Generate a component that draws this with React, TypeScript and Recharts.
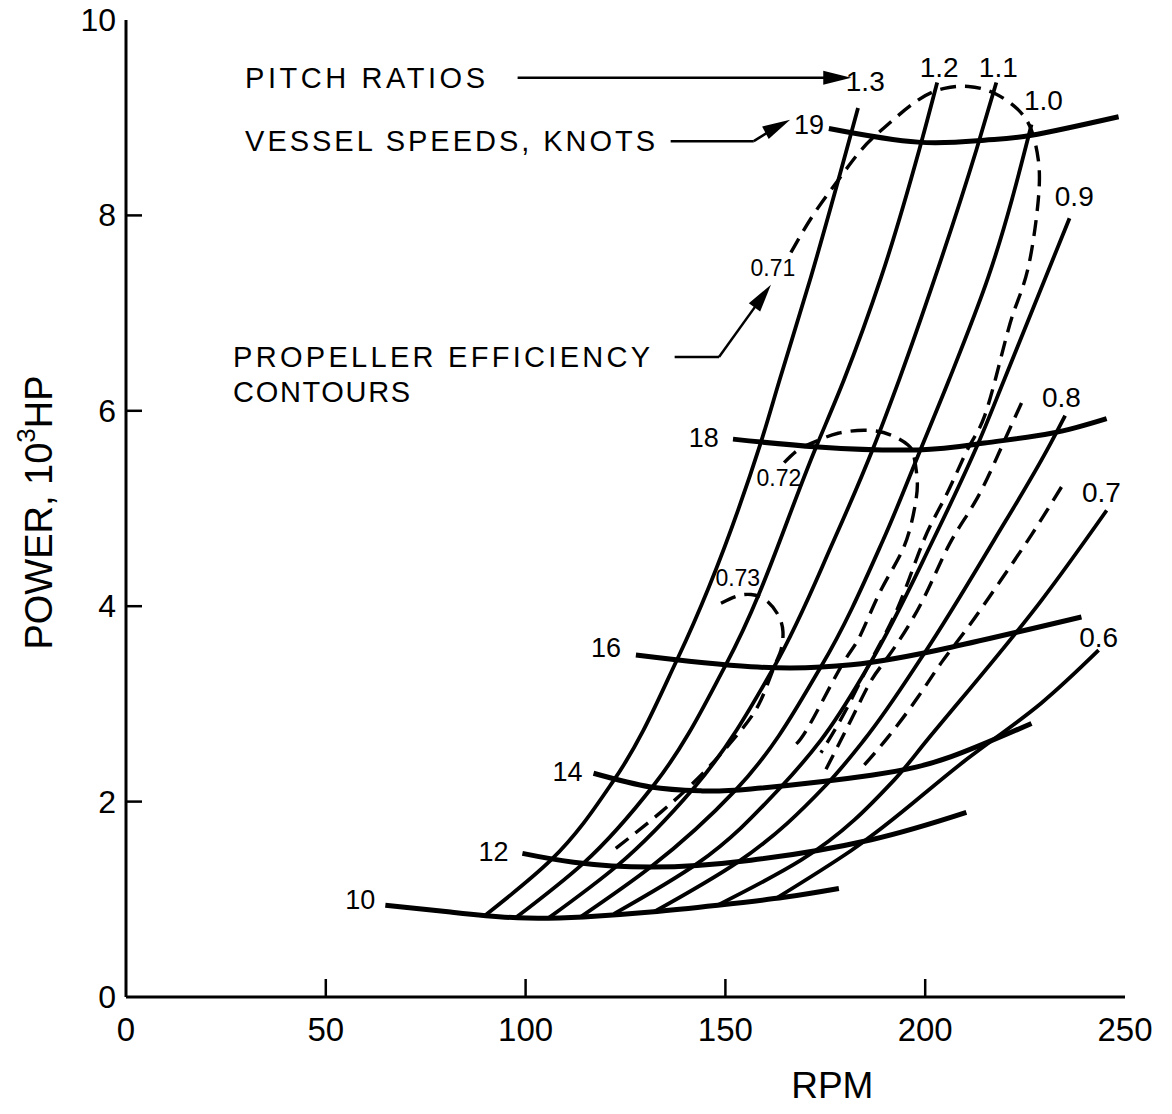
import React from 'react';
import { LineChart, Line, XAxis, YAxis, ReferenceLine, ReferenceDot } from 'recharts';

type Pt = [number, number];

// [rpm, power in 10^3 hp]
const rpmTicks = [0, 50, 100, 150, 200, 250];
const powerTicks = [0, 2, 4, 6, 8, 10];

// pitch ratio lines
const pitchRatioNames = ['1.3', '1.2', '1.1', '1.0', '0.9', '0.8', '0.7', '0.6'];
const pitch13: Pt[] = [[90.0, 0.84], [106.3, 1.40], [122.1, 2.22], [138.1, 3.47], [158.9, 5.68], [163.6, 6.32], [171.4, 7.37], [183.2, 9.10]];
const pitch12: Pt[] = [[97.5, 0.81], [114.5, 1.37], [132.1, 2.17], [150.1, 3.40], [172.7, 5.63], [179.7, 6.32], [189.0, 7.37], [198.5, 8.67], [203.0, 9.36]];
const pitch11: Pt[] = [[105.8, 0.81], [123.1, 1.35], [142.1, 2.14], [162.2, 3.38], [177.2, 4.68], [187.0, 5.62], [193.5, 6.32], [202.5, 7.37], [212.8, 8.67], [217.8, 9.36]];
const pitch10: Pt[] = [[113.8, 0.82], [131.3, 1.33], [152.6, 2.12], [173.9, 3.38], [189.5, 4.68], [199.0, 5.62], [206.0, 6.32], [215.8, 7.37], [226.6, 8.93]];
const pitch09: Pt[] = [[122.1, 0.85], [143.1, 1.37], [163.9, 2.15], [173.9, 2.63], [185.7, 3.38], [202.0, 4.68], [213.3, 5.67], [219.8, 6.32], [236.1, 7.97]];
const pitch08: Pt[] = [[132.1, 0.87], [153.1, 1.38], [175.2, 2.17], [184.7, 2.63], [199.5, 3.50], [217.3, 4.68], [230.5, 5.60], [235.0, 5.95]];
const pitch07: Pt[] = [[148.1, 0.94], [168.9, 1.40], [192.2, 2.22], [200.5, 2.63], [229.1, 4.06], [245.4, 4.98]];
const pitch06: Pt[] = [[162.7, 1.01], [181.5, 1.50], [210.3, 2.43], [229.1, 3.01], [243.4, 3.55]];

// vessel speed curves, knots
const speedNames = ['10', '12', '14', '16', '18', '19'];
const speed10: Pt[] = [[64.9, 0.94], [81.2, 0.87], [98.0, 0.81], [114.5, 0.82], [131.3, 0.87], [148.1, 0.94], [164.7, 1.02], [178.4, 1.11]];
const speed12: Pt[] = [[99.2, 1.47], [112.0, 1.38], [131.3, 1.33], [156.4, 1.40], [186.5, 1.61], [210.3, 1.89]];
const speed14: Pt[] = [[117.0, 2.29], [131.3, 2.15], [143.9, 2.11], [156.4, 2.13], [186.5, 2.27], [206.5, 2.46], [226.6, 2.80]];
const speed16: Pt[] = [[127.6, 3.50], [156.4, 3.38], [181.5, 3.40], [206.5, 3.58], [239.1, 3.89]];
const speed18: Pt[] = [[151.9, 5.71], [173.2, 5.63], [198.2, 5.60], [214.8, 5.67], [231.6, 5.77], [245.4, 5.92]];
const speed19: Pt[] = [[175.9, 8.89], [198.2, 8.75], [214.8, 8.77], [226.6, 8.82], [248.4, 9.01]];

// propeller efficiency contours (dashed)
const effNames = ['0.71', '0.72', '0.73'];
const eff071: Pt[] = [[166.4, 7.62], [171.9, 8.00], [178.2, 8.36], [184.0, 8.67], [189.8, 8.90], [198.2, 9.18], [204.8, 9.30], [210.8, 9.32], [217.3, 9.25], [223.3, 9.08], [226.6, 8.87], [228.3, 8.57], [228.3, 8.16], [225.8, 7.47], [222.3, 7.03], [219.0, 6.55], [214.8, 5.94], [210.8, 5.62], [205.3, 5.14], [199.7, 4.68], [193.2, 3.99], [186.5, 3.45], [180.2, 2.94], [173.9, 2.50]];
const eff072: Pt[] = [[164.7, 5.47], [168.2, 5.60], [172.2, 5.68], [178.2, 5.77], [185.7, 5.80], [191.5, 5.75], [195.7, 5.65], [197.2, 5.53], [198.0, 5.29], [197.5, 5.04], [194.7, 4.61], [189.0, 4.17], [183.5, 3.68], [178.9, 3.38], [170.7, 2.76], [166.4, 2.55]];
const eff073: Pt[] = [[148.9, 4.03], [152.6, 4.10], [156.4, 4.12], [160.2, 4.06], [163.2, 3.91], [164.4, 3.74], [163.9, 3.55], [162.2, 3.38], [158.9, 3.04], [153.9, 2.73], [144.6, 2.30], [133.8, 1.89], [121.3, 1.48]];
const effBranchA: Pt[] = [[224.1, 6.08], [219.0, 5.62], [212.8, 5.09], [206.0, 4.63], [199.0, 4.03], [191.0, 3.50], [186.5, 3.24], [181.5, 2.84], [174.4, 2.27]];
const effBranchB: Pt[] = [[234.1, 5.22], [226.6, 4.73], [219.0, 4.27], [210.8, 3.79], [204.0, 3.42], [198.2, 3.07], [190.7, 2.66], [184.0, 2.34]];

const pitchLines = [pitch13, pitch12, pitch11, pitch10, pitch09, pitch08, pitch07, pitch06];
const speedLines = [speed10, speed12, speed14, speed16, speed18, speed19];
const effLines = [eff071, eff072, eff073, effBranchA, effBranchB];

// where the labels sit (data coords)
const pitchLabelSpots: Pt[] = [[185.0, 9.37], [203.5, 9.51], [218.3, 9.51], [229.6, 9.18], [237.3, 8.19], [234.1, 6.14], [244.1, 5.16], [243.4, 3.68]];
const speedLabelSpots: Pt[] = [[58.6, 0.99], [92.0, 1.48], [110.5, 2.30], [120.1, 3.57], [144.6, 5.72], [170.9, 8.93]];
const effLabelSpots: Pt[] = [[161.9, 7.46], [163.4, 5.31], [153.1, 4.29]];

const notes = [
  { text: 'PITCH RATIOS', at: [29.8, 9.41] as Pt, len: 240 },
  { text: 'VESSEL SPEEDS, KNOTS', at: [29.8, 8.76] as Pt, len: 410 },
  { text: 'PROPELLER EFFICIENCY', at: [26.8, 6.55] as Pt, len: 417 },
  { text: 'CONTOURS', at: [26.8, 6.19] as Pt, len: 177 },
];

const arrowSegments: [Pt, Pt][] = [
  [[98.0, 9.41], [176.0, 9.41]],
  [[136.3, 8.76], [157.1, 8.76]],
  [[157.1, 8.76], [161.4, 8.87]],
  [[137.3, 6.55], [148.4, 6.55]],
  [[148.4, 6.55], [158.4, 7.12]],
];
const arrowHeads = [
  { at: [181.5, 9.41] as Pt, angle: 0 },
  { at: [166.2, 8.98] as Pt, angle: -28 },
  { at: [161.4, 7.29] as Pt, angle: -54 },
];

const FONT = '"Liberation Sans", Arial, sans-serif';
const toRows = (pts: Pt[]) => pts.map(([rpm, hp]) => ({ rpm, hp }));

const YTick = (props: any) => {
  const { x, y, payload } = props;
  const v = payload.value;
  return (
    <g>
      <text x={x} y={y} textAnchor="end" dominantBaseline="central" fontSize={32} fontFamily={FONT} fill="#000">{v}</text>
      {v > 0 && v < 10 && <line x1={x + 10} x2={x + 26} y1={y} y2={y} stroke="#000" strokeWidth={2.5} />}
    </g>
  );
};

const XTick = (props: any) => {
  const { x, y, payload } = props;
  const v = payload.value;
  return (
    <g>
      <text x={x} y={y + 20} textAnchor="middle" dominantBaseline="central" fontSize={33} fontFamily={FONT} fill="#000">{v}</text>
      {v > 0 && v < 250 && <line x1={x} x2={x} y1={y - 12} y2={y - 30} stroke="#000" strokeWidth={2.5} />}
    </g>
  );
};

const textShape = (text: string, size: number, anchor: string, len?: number) => (p: any) => (
  <text
    x={p.cx}
    y={p.cy}
    textAnchor={anchor}
    dominantBaseline="central"
    fontSize={size}
    fontFamily={FONT}
    fill="#000"
    textLength={len}
    lengthAdjust={len ? 'spacing' : undefined}
  >
    {text}
  </text>
);

const headShape = (angle: number) => (p: any) => (
  <polygon points="0,0 -28,-7 -28,7" fill="#000" transform={`translate(${p.cx},${p.cy}) rotate(${angle})`} />
);

const YTitle = (p: any) => {
  const vb = p.viewBox;
  const cx = vb.x + vb.width - 87;
  const cy = vb.y + vb.height / 2 + 4;
  return (
    <text transform={`translate(${cx},${cy}) rotate(-90)`} textAnchor="middle" dominantBaseline="central" fontSize={38} fontFamily={FONT} fill="#000">
      POWER, 10<tspan dy={-13} fontSize={26}>3</tspan><tspan dy={13}>HP</tspan>
    </text>
  );
};

const XTitle = (p: any) => {
  const vb = p.viewBox;
  return (
    <text x={vb.x + vb.width * 0.707} y={vb.y + 88} textAnchor="middle" dominantBaseline="central" fontSize={37} fontFamily={FONT} fill="#000">
      RPM
    </text>
  );
};

export default function App() {
  return (
    <div style={{ position: 'absolute', left: 0, top: 0, width: 1172, height: 1114, background: '#fff' }}>
      <LineChart width={1172} height={1114} margin={{ top: 20, right: 47, bottom: 57, left: 66 }}>
        <XAxis
          dataKey="rpm"
          type="number"
          domain={[0, 250]}
          ticks={rpmTicks}
          allowDataOverflow
          height={60}
          tickSize={0}
          tickMargin={12}
          tickLine={false}
          tick={<XTick />}
          axisLine={{ stroke: '#000', strokeWidth: 3 }}
          label={{ content: XTitle }}
        />
        <XAxis xAxisId="frame" orientation="top" type="number" domain={[0, 250]} height={0} tick={false} tickLine={false} axisLine={{ stroke: '#000', strokeWidth: 3 }} />
        <YAxis
          type="number"
          domain={[0, 10]}
          ticks={powerTicks}
          allowDataOverflow
          width={60}
          tickSize={0}
          tickMargin={10}
          tickLine={false}
          tick={<YTick />}
          axisLine={{ stroke: '#000', strokeWidth: 3 }}
          label={{ content: YTitle }}
        />
        <YAxis yAxisId="frame" orientation="right" type="number" domain={[0, 10]} width={0} tick={false} tickLine={false} axisLine={{ stroke: '#000', strokeWidth: 3 }} />

        {pitchLines.map((pts, i) => (
          <Line key={'p' + i} data={toRows(pts)} dataKey="hp" type="monotoneY" stroke="#000" strokeWidth={3.8} dot={false} activeDot={false} isAnimationActive={false} />
        ))}
        {speedLines.map((pts, i) => (
          <Line key={'s' + i} data={toRows(pts)} dataKey="hp" type="natural" stroke="#000" strokeWidth={5} dot={false} activeDot={false} isAnimationActive={false} />
        ))}
        {effLines.map((pts, i) => (
          <Line key={'e' + i} data={toRows(pts)} dataKey="hp" type="natural" stroke="#000" strokeWidth={3.4} strokeDasharray="16 9" dot={false} activeDot={false} isAnimationActive={false} />
        ))}

        {arrowSegments.map(([a, b], i) => (
          <ReferenceLine key={'a' + i} segment={[{ x: a[0], y: a[1] }, { x: b[0], y: b[1] }]} stroke="#000" strokeWidth={2.5} ifOverflow="visible" />
        ))}
        {arrowHeads.map((h, i) => (
          <ReferenceDot key={'h' + i} x={h.at[0]} y={h.at[1]} r={1} ifOverflow="visible" shape={headShape(h.angle)} />
        ))}
        {notes.map((n, i) => (
          <ReferenceDot key={'n' + i} x={n.at[0]} y={n.at[1]} r={1} ifOverflow="visible" shape={textShape(n.text, 29, 'start', n.len)} />
        ))}
        {pitchRatioNames.map((t, i) => (
          <ReferenceDot key={'pl' + i} x={pitchLabelSpots[i][0]} y={pitchLabelSpots[i][1]} r={1} ifOverflow="visible" shape={textShape(t, 28, 'middle')} />
        ))}
        {speedNames.map((t, i) => (
          <ReferenceDot key={'sl' + i} x={speedLabelSpots[i][0]} y={speedLabelSpots[i][1]} r={1} ifOverflow="visible" shape={textShape(t, 27, 'middle')} />
        ))}
        {effNames.map((t, i) => (
          <ReferenceDot key={'el' + i} x={effLabelSpots[i][0]} y={effLabelSpots[i][1]} r={1} ifOverflow="visible" shape={textShape(t, 23, 'middle')} />
        ))}
      </LineChart>
    </div>
  );
}
